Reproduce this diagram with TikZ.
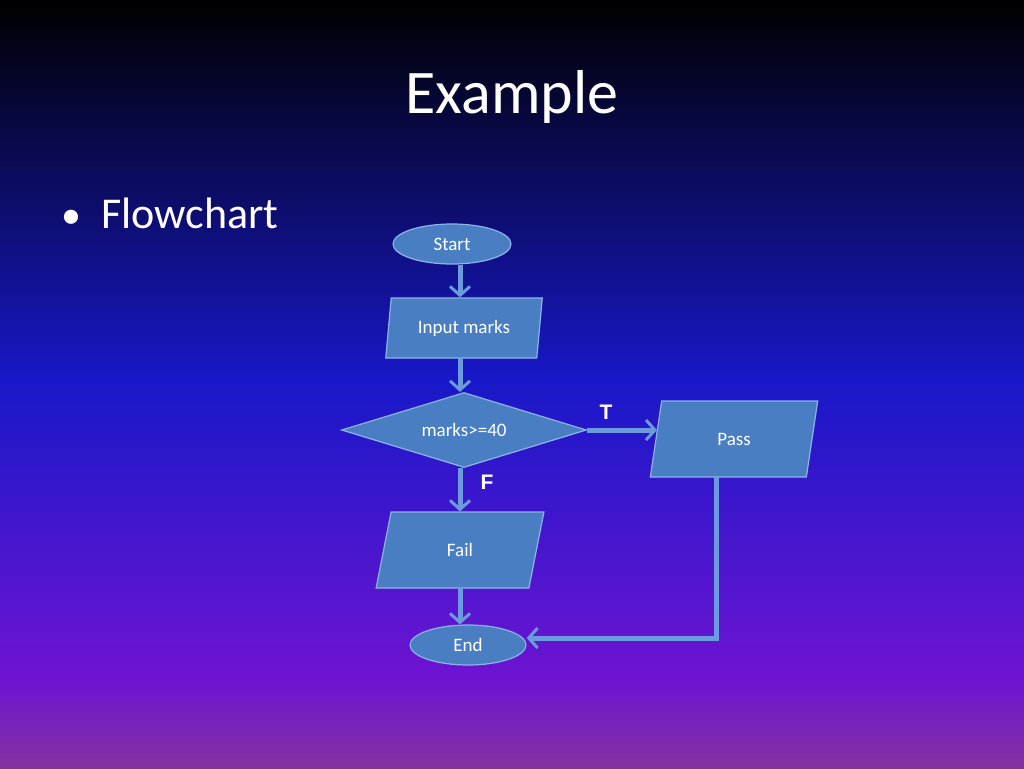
\documentclass[tikz,border=0pt]{standalone}
\usepackage{fontspec}
\setmainfont{Carlito}
\newfontfamily\arialf{Liberation Sans}
\usetikzlibrary{shapes.geometric,arrows.meta}
\definecolor{boxfill}{HTML}{4A7EC2}
\definecolor{boxline}{HTML}{8DB4E8}
\definecolor{arr}{HTML}{6C9BDD}
\begin{document}
\begin{tikzpicture}[x=1pt,y=-1pt,
  box/.style={fill=boxfill,draw=boxline,line width=1.2pt,text=white,font=\fontsize{19}{22}\selectfont},
  oval/.style={box,ellipse,inner sep=0pt},
  para/.style={box,trapezium,trapezium stretches=true,trapezium left angle=78,trapezium right angle=102,inner sep=0pt},
  arrowline/.style={draw=arr,line width=5pt,-{Straight Barb[length=9pt,width=20pt,line width=3pt]}},
  lab/.style={text=white,font=\arialf\bfseries\fontsize{21}{24}\selectfont}]
\useasboundingbox (0,0) rectangle (1024,768);
\shade[top color=black,bottom color={rgb,255:red,24;green,24;blue,200}] (0,0) rectangle (1024,380);
\shade[top color={rgb,255:red,24;green,24;blue,200},bottom color={rgb,255:red,110;green,20;blue,210}] (0,379) rectangle (1024,680);
\shade[top color={rgb,255:red,110;green,20;blue,210},bottom color={rgb,255:red,130;green,50;blue,160}] (0,679) rectangle (1024,768);
\node[text=white,font=\fontsize{62}{72}\selectfont] (title) at (512,97) {Example};
\node[text=white,font=\fontsize{44}{52}\selectfont,anchor=west] (bul) at (58,213) {{\fontsize{40}{40}\selectfont\textbullet}\ \ Flowchart};
\node[oval,minimum width=118pt,minimum height=40pt] (start) at (452,244) {Start};
\node[para,minimum width=158pt,minimum height=60pt] (input) at (464,328) {Input marks};
\node[box,diamond,aspect=3.3,minimum width=245pt,minimum height=75pt,inner sep=0pt] (dec) at (464,430) {marks>=40};
\node[para,minimum width=168pt,minimum height=76pt] (pass) at (734,439) {Pass};
\node[para,minimum width=168pt,minimum height=76pt] (fail) at (460,550) {Fail};
\node[oval,minimum width=116pt,minimum height=40pt] (end) at (468,645) {End};
\draw[arrowline] (start.south -| 460,0) coordinate (s1) -- (s1 |- input.north);
\draw[arrowline] (460,358) coordinate (i1) -- (i1 |- dec.north);
\draw[arrowline] (dec.east) -- (dec.east -| 657,0) coordinate (p1);
\draw[arrowline] (460,468) coordinate (d1) -- (d1 |- fail.north);
\draw[arrowline] (460,588) coordinate (f1) -- (f1 |- end.north);
\draw[arrowline] (716,477) coordinate (q1) -- (716,638) -- (end.east |- 0,638);
\node[lab] (T) at (606,412) {T};
\node[lab] (F) at (487,482) {F};
\end{tikzpicture}
\end{document}
